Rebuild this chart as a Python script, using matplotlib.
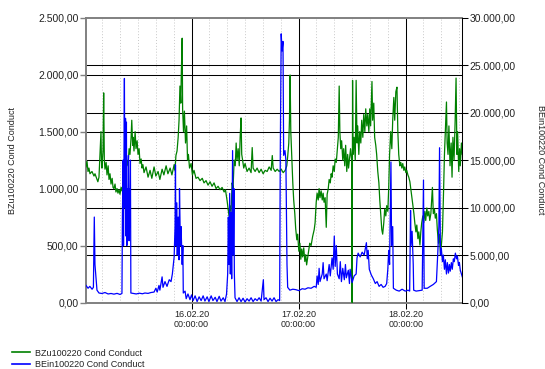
import datetime
import matplotlib
matplotlib.use("Agg")
import matplotlib.pyplot as plt
import matplotlib.dates as mdates
from matplotlib.ticker import FuncFormatter
from matplotlib.lines import Line2D

plt.rcParams['font.family'] = ['Liberation Sans', 'DejaVu Sans']

# Zeitachse: Stunden ab 15.02.20 00:00
start = datetime.datetime(2020, 2, 15)

green_label = "BZu100220 Cond Conduct"
blue_label = "BEin100220 Cond Conduct"

green_hours = [
    0.34, 0.56, 0.79, 1.0, 1.23, 1.68, 2.13, 2.35, 2.8, 3.0,
    3.25, 3.48, 3.7, 3.8, 3.9, 4.15, 4.3, 4.45, 4.6, 4.85,
    5.05, 5.3, 5.5, 5.72, 5.95, 6.2, 6.4, 6.6, 6.85, 7.05,
    7.3, 7.5, 7.75, 7.96, 8.2, 8.4, 8.65, 8.85, 9.1, 9.3,
    9.5, 9.75, 10.0, 10.2, 10.45, 10.6, 10.8, 10.9, 11.1, 11.35,
    11.55, 11.8, 12.0, 12.25, 12.45, 12.7, 12.9, 13.1, 13.35, 13.8,
    14.25, 14.7, 15.1, 15.6, 16.0, 16.5, 16.9, 17.4, 17.8, 18.3,
    18.7, 19.2, 19.6, 20.1, 20.3, 20.5, 20.75, 21.0, 21.2, 21.4,
    21.6, 21.7, 21.9, 22.0, 22.2, 22.4, 22.65, 22.9, 23.1, 23.3,
    23.55, 23.9, 24.2, 24.55, 25.0, 25.45, 25.9, 26.4, 26.8, 27.25,
    27.7, 28.15, 28.6, 29.05, 29.5, 29.95, 30.4, 30.85, 31.3, 31.6,
    31.95, 32.2, 32.4, 32.6, 32.85, 33.1, 33.3, 33.55, 33.8, 34.0,
    34.2, 34.45, 34.7, 34.9, 35.1, 35.25, 35.45, 35.7, 36.0, 36.45,
    36.9, 37.35, 37.6, 37.8, 38.25, 38.7, 39.15, 39.6, 40.05, 40.5,
    40.95, 41.4, 41.85, 42.1, 42.3, 42.75, 43.2, 43.65, 44.1, 44.55,
    45.0, 45.35, 45.55, 45.8, 45.95, 46.1, 46.25, 46.45, 46.7, 46.9,
    47.15, 47.35, 47.6, 47.8, 48.05, 48.3, 48.5, 48.7, 48.9, 49.15,
    49.4, 49.6, 49.8, 50.05, 50.25, 50.5, 50.8, 51.15, 51.5, 51.7,
    51.95, 52.15, 52.4, 52.6, 52.8, 53.05, 53.3, 53.5, 53.7, 53.95,
    54.2, 54.4, 54.65, 54.85, 55.1, 55.3, 55.5, 55.75, 56.0, 56.2,
    56.45, 56.7, 56.9, 57.1, 57.25, 57.45, 57.65, 57.9, 58.1, 58.35,
    58.55, 58.8, 59.0, 59.2, 59.45, 59.65, 59.9, 60.0, 60.1, 60.2,
    60.45, 60.7, 60.9, 61.1, 61.25, 61.5, 61.7, 61.95, 62.15, 62.4,
    62.6, 62.85, 63.05, 63.3, 63.5, 63.75, 63.95, 64.15, 64.45, 64.6,
    64.85, 65.05, 65.3, 65.5, 65.75, 66.0, 66.2, 66.4, 66.65, 66.85,
    67.1, 67.3, 67.55, 67.75, 68.0, 68.2, 68.4, 68.65, 68.9, 69.1,
    69.35, 69.55, 69.8, 70.05, 70.25, 70.45, 70.7, 70.9, 71.15, 71.35,
    71.6, 71.8, 72.05, 72.25, 72.5, 72.7, 72.95, 73.15, 73.4, 73.6,
    73.85, 74.05, 74.3, 74.5, 74.75, 74.95, 75.2, 75.4, 75.6, 75.85,
    76.05, 76.3, 76.5, 76.75, 76.95, 77.2, 77.4, 77.65, 78.0, 78.2,
    78.45, 78.65, 78.9, 79.1, 79.35, 79.55, 79.8, 80.0, 80.25, 80.45,
    80.7, 80.9, 81.15, 81.3, 81.5, 81.7, 81.95, 82.2, 82.4, 82.6,
    82.85, 83.1, 83.3, 83.5, 83.65, 83.9, 84.1, 84.25, 84.5, 84.7,
]
green_values = [
    1190, 1240, 1150, 1180, 1130, 1150, 1110, 1130, 1080, 1060,
    1100, 1310, 1500, 1250, 1180, 1330, 1840, 1250, 1170, 1230,
    1120, 1200, 1080, 1130, 1040, 1090, 1010, 1000, 1040, 970,
    1000, 960, 990, 950, 1010, 980, 1050, 1020, 1080, 1150,
    1250, 1200, 1350, 1300, 1450, 1600, 1380, 1450, 1330, 1500,
    1350, 1420, 1300, 1350, 1220, 1260, 1180, 1210, 1140, 1190,
    1100, 1160, 1090, 1190, 1110, 1150, 1080, 1170, 1120, 1200,
    1130, 1180, 1120, 1210, 1160, 1290, 1330, 1450, 1600, 1900,
    1750, 2000, 2320, 1700, 1500, 1680, 1400, 1550, 1250, 1300,
    1180, 1220, 1120, 1160, 1090, 1100, 1070, 1090, 1050, 1070,
    1030, 1060, 1020, 1050, 1000, 1020, 990, 1010, 970, 990,
    900, 820, 760, 850, 790, 1050, 1000, 1250, 1200, 1400,
    1250, 1350, 1200, 1450, 1620, 1300, 1250, 1180, 1220, 1150,
    1180, 1140, 1360, 1180, 1150, 1180, 1140, 1170, 1130, 1160,
    1150, 1190, 1160, 1290, 1180, 1150, 1170, 1150, 1170, 1140,
    1160, 1200, 1280, 1400, 1600, 1997, 1500, 1300, 1050, 900,
    780, 650, 550, 600, 450, 520, 380, 470, 400, 480,
    360, 420, 330, 400, 460, 520, 500, 580, 640, 700,
    880, 960, 900, 1000, 920, 980, 900, 960, 880, 920,
    660, 950, 1000, 1080, 1050, 1130, 1100, 1200, 1150, 1260,
    1230, 1350, 1450, 1900, 1500, 1350, 1420, 1250, 1350, 1200,
    1380, 1150, 1300, 1180, 1280, 1350, 1250, 0, 1950, 1300,
    1450, 1250, 1950, 1400, 1550, 1300, 1500, 1400, 1600, 1450,
    1650, 1500, 1700, 1550, 1650, 1500, 1700, 1550, 1940, 1600,
    1750, 1450, 1380, 1300, 1150, 1050, 900, 780, 640, 600,
    700, 820, 760, 850, 800, 1000, 1300, 1500, 1350, 1600,
    1800, 1600, 1850, 1890, 1500, 1300, 1200, 1230, 1180, 1220,
    1160, 1190, 1140, 1160, 1120, 1100, 1060, 1000, 930, 860,
    780, 700, 620, 680, 560, 620, 505, 620, 700, 760,
    700, 800, 720, 830, 760, 800, 720, 780, 1010, 780,
    820, 740, 780, 640, 520, 600, 430, 500, 620, 900,
    1300, 1500, 1760, 1400, 1300, 1550, 1200, 1400, 1100, 1450,
    1250, 1600, 1970, 1300, 1500, 1150, 1350, 1200, 1400, 1300,
]

blue_hours = [
    0.34, 0.8, 1.2, 1.7, 2.0, 2.2, 2.35, 2.6, 2.8, 3.25,
    3.9, 4.6, 5.3, 5.95, 6.6, 7.3, 7.96, 8.4, 8.5, 8.65,
    8.75, 8.95, 9.05, 9.2, 9.3, 9.4, 9.5, 9.65, 9.75, 9.85,
    10.0, 10.1, 10.2, 10.3, 10.4, 10.95, 11.6, 12.3, 13.0, 13.55,
    14.25, 14.9, 15.6, 16.0, 16.3, 16.7, 16.9, 17.4, 17.6, 18.05,
    18.5, 19.0, 19.4, 19.7, 19.9, 20.1, 20.3, 20.4, 20.5, 20.7,
    20.8, 21.0, 21.2, 21.3, 21.5, 21.65, 21.9, 22.05, 22.15, 22.55,
    22.8, 23.2, 23.65, 24.0, 24.35, 24.8, 25.25, 25.7, 26.15, 26.6,
    27.0, 27.5, 27.9, 28.4, 28.8, 29.3, 29.7, 30.2, 30.6, 31.1,
    31.5, 31.85, 32.1, 32.25, 32.4, 32.55, 32.7, 32.85, 33.0, 33.2,
    33.35, 33.5, 33.6, 33.75, 34.2, 34.65, 35.1, 35.55, 36.0, 36.45,
    36.9, 37.35, 37.8, 38.25, 38.7, 39.15, 39.6, 40.1, 40.25, 40.7,
    41.15, 41.6, 42.05, 42.5, 42.95, 43.4, 43.75, 43.9, 44.1, 44.3,
    44.5, 44.65, 44.95, 45.15, 45.4, 45.55, 46.05, 46.7, 47.4, 48.05,
    48.8, 49.45, 50.1, 50.8, 51.5, 51.95, 52.15, 52.4, 52.6, 52.8,
    53.3, 53.5, 53.7, 54.2, 54.4, 54.85, 55.1, 55.5, 55.75, 56.0,
    56.2, 56.45, 56.7, 57.1, 57.35, 57.6, 57.9, 58.25, 58.5, 58.7,
    59.15, 59.4, 59.55, 60.0, 60.45, 60.9, 61.1, 61.35, 61.8, 62.25,
    62.7, 63.2, 63.4, 63.6, 63.85, 64.3, 64.75, 65.2, 65.6, 66.05,
    66.5, 66.95, 67.4, 67.75, 68.0, 68.2, 68.4, 68.7, 68.85, 69.1,
    69.25, 69.9, 70.55, 71.2, 71.9, 72.55, 72.9, 73.1, 73.2, 73.45,
    73.7, 73.8, 74.35, 75.05, 75.7, 76.0, 76.15, 76.85, 77.5, 78.2,
    78.9, 79.2, 79.45, 79.6, 79.8, 80.0, 80.25, 80.45, 80.7, 80.9,
    81.15, 81.35, 81.6, 81.8, 82.0, 82.25, 82.45, 82.7, 82.9, 83.15,
    83.4, 83.6, 83.85, 84.05, 84.25, 84.5, 84.7,
]
blue_values = [
    1800, 1500, 1700, 1400, 1600, 9000, 4000, 2500, 1300, 1000,
    950, 1050, 900, 950, 880, 960, 850, 950, 9000, 15000,
    6000, 23600, 10000, 19400, 7000, 19000, 6000, 12000, 7500, 15500,
    6500, 12000, 8000, 15000, 1000, 950, 900, 980, 920, 1000,
    960, 1050, 1100, 1500, 1100, 1800, 1300, 2700, 1600, 2200,
    1700, 2400, 2200, 3000, 3900, 4800, 8000, 14500, 6000, 10500,
    5000, 9000, 4500, 12000, 6000, 8000, 4000, 6000, 1000, 1200,
    400, 900, 300, 800, 200, 700, 100, 600, 200, 700,
    150, 600, 100, 700, 200, 550, 100, 650, 150, 500,
    100, 900, 3000, 9000, 4000, 11500, 3000, 9500, 2500, 16000,
    5000, 12000, 3000, 500, 100, 500, 100, 450, 50, 400,
    150, 500, 100, 400, 200, 500, 150, 2400, 300, 500,
    100, 450, 150, 500, 100, 300, 200, 16000, 28300, 26500,
    27500, 15500, 16000, 15000, 4000, 1600, 1300, 1400, 1350, 1250,
    1450, 1400, 1550, 1500, 1700, 1600, 2800, 1900, 3600, 2200,
    3000, 4200, 2500, 3000, 2300, 4000, 2800, 4700, 3500, 7000,
    3800, 6000, 3000, 2500, 4300, 2200, 3600, 2400, 4000, 2600,
    3400, 2000, 3500, 2100, 2800, 3000, 4700, 5200, 4800, 5300,
    5000, 6300, 4600, 5500, 3500, 2900, 2500, 2000, 2200, 1700,
    1900, 1600, 1700, 2000, 3500, 5500, 4000, 14800, 6000, 8000,
    1500, 1300, 1200, 1400, 1200, 1300, 1200, 9700, 6000, 7500,
    4000, 1300, 1200, 1250, 1300, 12900, 1500, 1500, 1700, 1900,
    2200, 5200, 8000, 16300, 5000, 5700, 4300, 5000, 3500, 4500,
    3000, 4200, 3100, 4000, 3300, 4200, 3500, 4600, 4300, 5200,
    4600, 4900, 3900, 4200, 3400, 3000, 2700,
]

left_ticks = [0, 500, 1000, 1500, 2000, 2500]
right_ticks = [0, 5000, 10000, 15000, 20000, 25000, 30000]

t0 = mdates.date2num(start)
tg = [t0 + h / 24 for h in green_hours]
tb = [t0 + h / 24 for h in blue_hours]


def de_fmt(v, pos=None):
    s = f"{v:,.2f}"
    return s.replace(",", "X").replace(".", ",").replace("X", ".")


fig = plt.figure(figsize=(5.45, 3.69), dpi=100)
ax = fig.add_axes([86 / 545, 1 - 302.5 / 369, (462.3 - 86) / 545, (302.5 - 17.7) / 369])
ax2 = ax.twinx()

ax.plot(tg, green_values, color="#008000", lw=0.9, zorder=3)
ax2.plot(tb, blue_values, color="#0000ff", lw=0.9, zorder=3)

ax.set_xlim(tg[0], tg[-1])
ax.set_ylim(left_ticks[0], left_ticks[-1])
ax2.set_ylim(right_ticks[0], right_ticks[-1])
ax.set_yticks(left_ticks)
ax2.set_yticks(right_ticks)
ax.yaxis.set_major_formatter(FuncFormatter(de_fmt))
ax2.yaxis.set_major_formatter(FuncFormatter(de_fmt))

# Gitterlinien (beide Achsen) hinter den Kurven
for v in left_ticks[1:-1]:
    ax.axhline(v, color="black", lw=0.75, zorder=1)
for v in right_ticks[1:-1]:
    ax.axhline(v * left_ticks[-1] / right_ticks[-1], color="black", lw=0.75, zorder=1)

ax.xaxis.set_major_locator(mdates.DayLocator())
ax.xaxis.set_minor_locator(mdates.HourLocator(byhour=range(0, 24, 4)))
ax.xaxis.set_major_formatter(mdates.DateFormatter("%d.%m.%y\n%H:%M:%S"))
ax.grid(axis="x", which="major", color="black", lw=0.75, zorder=1)
ax.grid(axis="x", which="minor", color="#c8c8c8", lw=0.7, ls=(0, (1, 2)), zorder=0)
ax.set_axisbelow(True)

ax.tick_params(axis="x", which="major", length=6 * 0.72, width=0.75, color="black",
               labelsize=6.5, pad=1, labelcolor="#222222")
ax.tick_params(axis="x", which="minor", length=0)
ax.tick_params(axis="y", length=6 * 0.72, width=1, color="#808080", labelsize=7.5,
               pad=1, labelcolor="#222222")
ax2.tick_params(axis="y", length=6 * 0.72, width=0.75, color="black", labelsize=7.5,
                pad=1, labelcolor="#222222")

for side in ["left", "top", "bottom"]:
    ax.spines[side].set_color("#808080")
    ax.spines[side].set_linewidth(1.4)
    ax2.spines[side].set_visible(False)
ax.spines["right"].set_visible(False)
ax2.spines["right"].set_color("black")
ax2.spines["right"].set_linewidth(0.75)

fig.text(13 / 545, 1 - 160 / 369, green_label, rotation=90, ha="center", va="center",
         fontsize=6.5, color="#222222")
fig.text(541 / 545, 1 - 160 / 369, blue_label, rotation=270, ha="center", va="center",
         fontsize=6.5, color="#222222")

handles = [Line2D([], [], color="#008000", lw=1.2), Line2D([], [], color="#0000ff", lw=1.2)]
fig.legend(handles, [green_label, blue_label], loc="upper left",
           bbox_to_anchor=(11.5 / 545, 1 - 348.5 / 369), frameon=False, fontsize=6.5,
           borderpad=0, borderaxespad=0, handlelength=2.1, handletextpad=0.45,
           labelspacing=0.25, labelcolor="#222222")

fig.savefig("out.png", dpi=100)
